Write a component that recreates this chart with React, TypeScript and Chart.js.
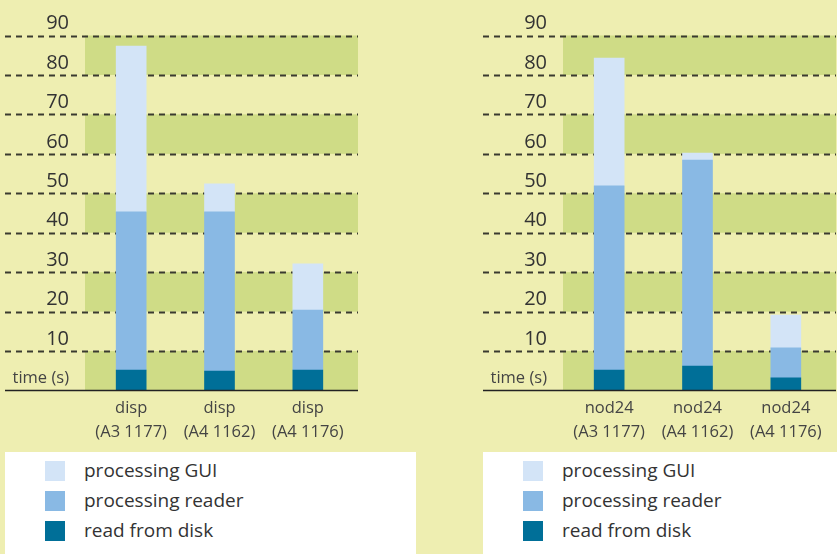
import React, { useEffect, useRef } from "react";
import { Chart, registerables } from "chart.js";

Chart.register(...registerables);

const SERIES_NAMES = ["read from disk", "processing reader", "processing GUI"];
const SERIES_COLORS = ["#006f98", "#89b9e4", "#d3e4f7"];

const LEFT_CATEGORIES = [
  ["disp", "(A3 1177)"],
  ["disp", "(A4 1162)"],
  ["disp", "(A4 1176)"],
];
const LEFT_DISK = [5.2, 4.9, 5.2];
const LEFT_READER = [40.1, 40.4, 15.2];
const LEFT_GUI = [42.0, 7.1, 11.7];

const RIGHT_CATEGORIES = [
  ["nod24", "(A3 1177)"],
  ["nod24", "(A4 1162)"],
  ["nod24", "(A4 1176)"],
];
const RIGHT_DISK = [5.2, 6.2, 3.2];
const RIGHT_READER = [46.7, 52.2, 7.6];
const RIGHT_GUI = [32.4, 1.8, 8.3];

const Y_MIN = 0;
const Y_MAX = 90;
const Y_STEP = 10;
const ZERO_LABEL = "time (s)";

const BG = "#eeeeb1";
const BAND = "#cfdc86";
const FONT = "'Open Sans', 'DejaVu Sans', sans-serif";

const bandsPlugin = {
  id: "bands",
  beforeDatasetsDraw(chart: any) {
    const { ctx, chartArea } = chart;
    const y = chart.scales.y;
    const left = chartArea.left - 2;
    const right = chartArea.right + 6;
    ctx.save();
    ctx.fillStyle = BAND;
    for (let v = Y_MIN; v < Y_MAX; v += 2 * Y_STEP) {
      const top = y.getPixelForValue(v + Y_STEP);
      const bot = y.getPixelForValue(v);
      ctx.fillRect(left, top, right - left, bot - top);
    }
    ctx.strokeStyle = "#3a3a30";
    ctx.lineWidth = 1.8;
    ctx.setLineDash([6, 5]);
    for (let v = Y_MIN + Y_STEP; v <= Y_MAX; v += Y_STEP) {
      const py = Math.round(y.getPixelForValue(v)) + 0.5;
      ctx.beginPath();
      ctx.moveTo(5, py);
      ctx.lineTo(right, py);
      ctx.stroke();
    }
    ctx.restore();
  },
  afterDatasetsDraw(chart: any) {
    const { ctx, chartArea } = chart;
    const y = chart.scales.y;
    const right = chartArea.right + 6;
    const py = y.getPixelForValue(Y_MIN);
    ctx.save();
    ctx.strokeStyle = "#222";
    ctx.lineWidth = 1.6;
    ctx.beginPath();
    ctx.moveTo(5, py);
    ctx.lineTo(right, py);
    ctx.stroke();
    ctx.restore();
  },
};

function Panel(props: {
  left: number;
  categories: string[][];
  disk: number[];
  reader: number[];
  gui: number[];
}) {
  const ref = useRef<HTMLCanvasElement | null>(null);
  useEffect(() => {
    if (!ref.current) return;
    const values = [props.disk, props.reader, props.gui];
    const chart = new Chart(ref.current, {
      type: "bar",
      data: {
        labels: props.categories,
        datasets: SERIES_NAMES.map((name, i) => ({
          label: name,
          data: values[i],
          backgroundColor: SERIES_COLORS[i],
          borderWidth: 0,
          barThickness: 30,
        })),
      },
      options: {
        responsive: false,
        animation: false,
        layout: { padding: { top: 35.5, right: 68, left: 0, bottom: 0 } },
        plugins: { legend: { display: false }, tooltip: { enabled: false } },
        scales: {
          x: {
            stacked: true,
            grid: { display: false, drawTicks: false },
            border: { display: false },
            ticks: {
              color: "#444",
              font: { family: FONT, size: 16.5, lineHeight: 1.5 },
              padding: 5,
              maxRotation: 0,
              autoSkip: false,
            },
            afterFit: (s: any) => {
              s.height = 59.5;
            },
          },
          y: {
            stacked: true,
            min: Y_MIN,
            max: Y_MAX,
            grid: { display: false, drawTicks: false },
            border: { display: false },
            ticks: {
              stepSize: Y_STEP,
              padding: 18,
              labelOffset: -12,
              color: (c: any) => (c.tick && c.tick.value === 0 ? "#444" : "#333"),
              font: (c: any) =>
                c.tick && c.tick.value === 0
                  ? { family: FONT, size: 16.5 }
                  : { family: FONT, size: 20 },
              callback: (v: any) => (Number(v) === 0 ? ZERO_LABEL : String(v)),
            },
            afterFit: (s: any) => {
              s.width = 87;
            },
          },
        },
      },
      plugins: [bandsPlugin],
    });
    return () => chart.destroy();
  }, []);

  const legendItems = [2, 1, 0];
  return (
    <div style={{ position: "absolute", left: props.left, top: 0, width: 420, height: 554 }}>
      <canvas ref={ref} width={420} height={450} style={{ display: "block" }} />
      <div
        style={{
          position: "absolute",
          left: 5,
          top: 452,
          width: 411,
          height: 102,
          background: "#ffffff",
        }}
      >
        {legendItems.map((idx, row) => (
          <div key={idx} style={{ position: "absolute", left: 0, top: 9 + row * 30, height: 20, width: 411 }}>
            <div
              style={{
                position: "absolute",
                left: 40,
                top: 0,
                width: 20,
                height: 20,
                background: SERIES_COLORS[idx],
              }}
            />
            <div
              style={{
                position: "absolute",
                left: 79,
                top: -4,
                lineHeight: "26px",
                fontFamily: FONT,
                fontSize: 19,
                color: "#333",
                whiteSpace: "nowrap",
              }}
            >
              {SERIES_NAMES[idx]}
            </div>
          </div>
        ))}
      </div>
    </div>
  );
}

export default function App() {
  return (
    <div
      style={{
        position: "fixed",
        left: 0,
        top: 0,
        width: 837,
        height: 554,
        background: BG,
        overflow: "hidden",
      }}
    >
      <Panel left={0} categories={LEFT_CATEGORIES} disk={LEFT_DISK} reader={LEFT_READER} gui={LEFT_GUI} />
      <Panel left={478} categories={RIGHT_CATEGORIES} disk={RIGHT_DISK} reader={RIGHT_READER} gui={RIGHT_GUI} />
    </div>
  );
}
